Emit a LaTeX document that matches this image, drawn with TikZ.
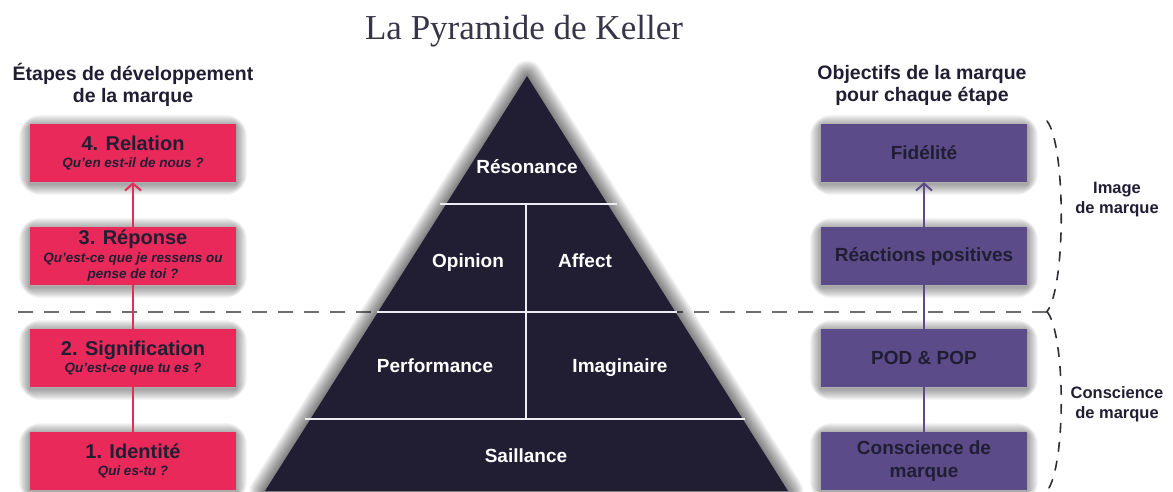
\documentclass[tikz,border=0pt]{standalone}
\usepackage{fontspec}
\setmainfont{Liberation Sans}
\newfontfamily\titleserif{Liberation Serif}
\usetikzlibrary{arrows.meta}

\definecolor{ink}{HTML}{211E33}
\definecolor{crim}{HTML}{E8295A}
\definecolor{violet}{HTML}{5B4B89}
\definecolor{dashgray}{HTML}{6E6E72}
\definecolor{braceink}{HTML}{2E2E33}
\definecolor{tierwhite}{HTML}{ECECF2}

\pgfdeclarelayer{shade}
\pgfsetlayers{shade,main}

\newcommand{\stagetitle}{\fontsize{20}{16}\selectfont\bfseries}
\newcommand{\stagesub}{\fontsize{13.5}{16}\selectfont\bfseries\itshape}

\tikzset{
  haze/.style={draw=black, draw opacity=0.035, line join=round},
  stagebox/.style={rectangle, fill=crim, minimum width=206pt, minimum height=58pt,
      inner sep=0pt, align=center, text=ink,
      font=\fontsize{13.5}{16.5}\selectfont},
  goalbox/.style={rectangle, fill=violet, minimum width=206pt, minimum height=58pt,
      inner sep=0pt, align=center, text=ink,
      font=\fontsize{19}{23}\selectfont\bfseries},
  crimlink/.style={draw=crim, line width=2pt},
  violink/.style={draw=violet, line width=2pt},
  uparrow/.style={-{Straight Barb[length=7pt,width=16pt]}},
  header/.style={align=center, text=ink, font=\fontsize{19.5}{22}\selectfont\bfseries},
  sidelabel/.style={align=center, text=ink, font=\fontsize{16.5}{20}\selectfont\bfseries},
  tierlabel/.style={anchor=base, text=white, font=\fontsize{19}{22}\selectfont\bfseries},
  tierline/.style={draw=tierwhite, line width=2pt},
  divider/.style={draw=dashgray, line width=2pt, dash pattern=on 15pt off 11pt},
  bracedash/.style={draw=braceink, line width=1.6pt, dash pattern=on 9pt off 10pt,
      line cap=round},
}

\begin{document}
\begin{tikzpicture}[x=1pt,y=-1pt]
\useasboundingbox (0,0) rectangle (1173,491);
\begin{pgfonlayer}{shade}
  \fill[white] (0,0) rectangle (1173,491);
\end{pgfonlayer}

% title
\node[anchor=base, text=ink!90] (title) at (524,39)
  {\titleserif\fontsize{35}{40}\selectfont La Pyramide de Keller};

% dashed divider between the two halves
\coordinate (bTop) at (1047,121);
\coordinate (bMid) at (1047,311.5);
\coordinate (bBot) at (1047,491);
\coordinate (divL) at (10,311.5);
\draw[divider] (bMid) -- (divL);

% pyramid with its soft halo
\coordinate (apex) at (527,76);
\coordinate (baseL) at (265,491);
\coordinate (baseR) at (788,491);
\foreach \k in {1,...,14}
  \draw[haze, draw opacity=0.045, line width=2.2*\k pt] (apex) -- (baseR) -- (baseL) -- cycle;
\fill[ink] (apex) -- (baseR) -- (baseL) -- cycle;
\draw[tierline] (440,204) -- (617,204);
\draw[tierline] (377,311.5) -- (677,311.5);
\draw[tierline] (305,419) -- (745,419);
\draw[tierline] (526,204) -- (526,419);

\node[tierlabel] (resonance) at (527,173) {Résonance};
\node[tierlabel] (opinion) at (468,267) {Opinion};
\node[tierlabel] (affect) at (585,267) {Affect};
\node[tierlabel] (performance) at (435,372) {Performance};
\node[tierlabel] (imaginaire) at (620,372) {Imaginaire};
\node[tierlabel] (saillance) at (526,462) {Saillance};

% left column: stages
\node[header] (hleft) at (133,85) {Étapes de développement\\de la marque};

\node[stagebox] (s4) at (133,153)
  {{\stagetitle 4. Relation}\\[1pt]{\stagesub Qu'en est-il de nous~?}};
\node[stagebox] (s3) at (133,256)
  {{\stagetitle 3. Réponse}\\[1pt]{\stagesub Qu'est-ce que je ressens ou}\\{\stagesub pense de toi~?}};
\node[stagebox] (s2) at (133,358)
  {{\stagetitle 2. Signification}\\[1pt]{\stagesub Qu'est-ce que tu es~?}};
\node[stagebox] (s1) at (133,461)
  {{\stagetitle 1. Identité}\\[1pt]{\stagesub Qui es-tu~?}};

\draw[crimlink] (s1.north) -- (s2.south);
\draw[crimlink] (s2.north) -- (s3.south);
\draw[crimlink, uparrow] (s3.north) -- (s4.south);

% right column: brand goals
\node[header] (hright) at (922,85) {Objectifs de la marque\\pour chaque étape};

\node[goalbox] (g4) at (924,153) {Fidélité};
\node[goalbox] (g3) at (924,256) {Réactions positives};
\node[goalbox] (g2) at (924,358) {POD \& POP};
\node[goalbox] (g1) at (924,461) {Conscience de\\marque};

\draw[violink] (g1.north) -- (g2.south);
\draw[violink] (g2.north) -- (g3.south);
\draw[violink, uparrow] (g3.north) -- (g4.south);

% soft shadows under the boxes
\begin{pgfonlayer}{shade}
  \foreach \b in {s1,s2,s3,s4,g1,g2,g3,g4}
    \foreach \k in {1,...,11}
      \draw[haze, line width=2*\k pt, rounded corners=\k pt]
        ([yshift=-2pt]\b.north west) rectangle ([yshift=-2pt]\b.south east);
\end{pgfonlayer}

% braces and their labels
\draw[bracedash] (bTop) .. controls (1066,145) and (1066,287) .. (bMid);
\draw[bracedash] (bMid) .. controls (1066,335) and (1066,467) .. (bBot);

\node[sidelabel] (limage) at (1117,200) {Image\\de marque};
\node[sidelabel] (lconsc) at (1117,404) {Conscience\\de marque};
\end{tikzpicture}
\end{document}
